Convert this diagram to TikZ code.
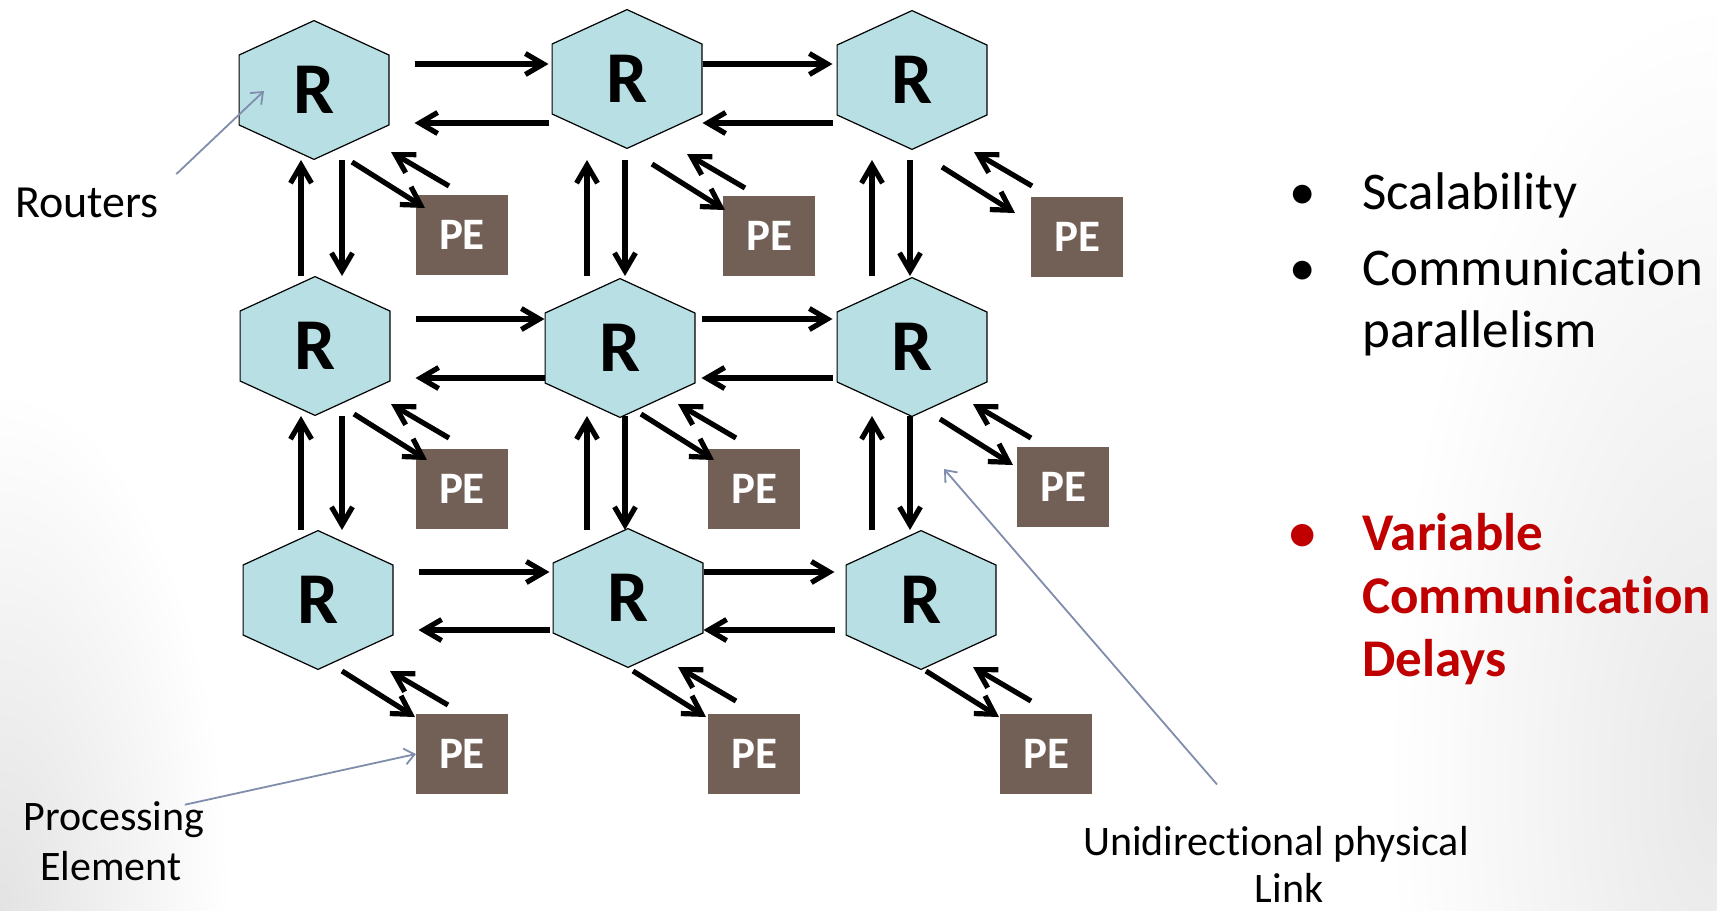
\documentclass[tikz,border=0pt]{standalone}
\usepackage{fontspec}
\setmainfont{Carlito}[Ligatures=NoCommon]
\usetikzlibrary{calc, positioning, arrows.meta}

\definecolor{hexfill}{RGB}{184,223,227}
\definecolor{pebrown}{RGB}{114,96,86}
\definecolor{notegray}{RGB}{128,141,172}
\definecolor{hotred}{RGB}{192,0,0}

\tikzset{
  router/.style={minimum width=75.5pt, minimum height=70pt, inner sep=0pt, outer sep=0pt,
    font=\fontsize{36.5}{36.5}\selectfont\bfseries,
    path picture={\filldraw[fill=hexfill, line width=0.6pt]
      let \p1=(path picture bounding box.north west), \p2=(path picture bounding box.south east) in
      ({(\x1+\x2)/2},\y1-0.3pt) -- (\x2-0.3pt,0.75*\y1+0.25*\y2) -- (\x2-0.3pt,0.25*\y1+0.75*\y2)
      -- ({(\x1+\x2)/2},\y2+0.3pt) -- (\x1+0.3pt,0.25*\y1+0.75*\y2) -- (\x1+0.3pt,0.75*\y1+0.25*\y2) -- cycle;}},
  pe/.style={fill=pebrown, text=white, minimum width=46pt, minimum height=40pt, inner sep=0pt,
    outer sep=0pt, font=\fontsize{22.5}{22.5}\selectfont\bfseries},
  link/.style={line width=2.6pt, -{Straight Barb[length=9pt,width=10.5pt]}},
  note/.style={draw=notegray, line width=0.9pt, -{Straight Barb[length=5pt,width=8pt]}},
  notetext/.style={inner sep=0pt, font=\fontsize{21}{21}\selectfont},
  item/.style={inner sep=0pt, font=\fontsize{26.5}{26.5}\selectfont},
  hot/.style={text=hotred, font=\fontsize{26.5}{26.5}\selectfont\bfseries}
}

\begin{document}
\begin{tikzpicture}[x=0.5pt, y=-0.5pt]
  \useasboundingbox (0,0) rectangle (1717,910);
  \fill[white] (0,0) rectangle (1717,910);
  \begin{scope}
    \clip (0,0) rectangle (1717,910);
    \shade[inner color=black!11, outer color=white] (0,910) ellipse (230 and 520);
    \shade[inner color=black!9, outer color=white] (1717,780) ellipse (330 and 780);
  \end{scope}

  % routers
  \node[router] (R11) at (314,90) {R};
  \node[router] (R12) at (627,79) {R};
  \node[router] (R13) at (912,80) {R};
  \node[router] (R21) at (315,346) {R};
  \node[router] (R22) at (620,348) {R};
  \node[router] (R23) at (912,347) {R};
  \node[router] (R31) at (318,600) {R};
  \node[router] (R32) at (628,598) {R};
  \node[router] (R33) at (921,600) {R};

  % processing elements
  \node[pe] (PE11) at (462,235) {PE};
  \node[pe] (PE12) at (769,236) {PE};
  \node[pe] (PE13) at (1077,237) {PE};
  \node[pe] (PE21) at (462,489) {PE};
  \node[pe] (PE22) at (754,489) {PE};
  \node[pe] (PE23) at (1063,487) {PE};
  \node[pe] (PE31) at (462,754) {PE};
  \node[pe] (PE32) at (754,754) {PE};
  \node[pe] (PE33) at (1046,754) {PE};

  % lanes
  \path (R11) ++(0,-26) coordinate (E1) ++(0,59) coordinate (W1);
  \path (R21) ++(0,-27) coordinate (E2) ++(0,59) coordinate (W2);
  \path (R31) ++(0,-28) coordinate (E3) ++(0,58) coordinate (W3);
  \path (R11) ++(-13,0) coordinate (U1) ++(41,0) coordinate (D1);
  \path (R12) ++(-40,0) coordinate (U2) ++(38,0) coordinate (D2);
  \path (R13) ++(-40,0) coordinate (U3) ++(38,0) coordinate (D3);

  \draw[link, shorten <=12.5pt, shorten >=1.5pt] (R11.east |- E1) -- (R12.west |- E1);
  \draw[link, shorten <=1.5pt, shorten >=12.5pt] (R12.west |- W1) -- (R11.east |- W1);
  \draw[link, shorten >=2pt] (R12.east |- E1) -- (R13.west |- E1);
  \draw[link, shorten <=2pt] (R13.west |- W1) -- (R12.east |- W1);
  \draw[link, shorten <=12.5pt, shorten >=0pt] (R21.east |- E2) -- (R22.west |- E2);
  \draw[link, shorten <=0pt, shorten >=12.5pt] (R22.west |- W2) -- (R21.east |- W2);
  \draw[link, shorten <=3pt, shorten >=2pt] (R22.east |- E2) -- (R23.west |- E2);
  \draw[link, shorten <=2pt, shorten >=3pt] (R23.west |- W2) -- (R22.east |- W2);
  \draw[link, shorten <=12.5pt, shorten >=1.5pt] (R31.east |- E3) -- (R32.west |- E3);
  \draw[link, shorten <=1.5pt, shorten >=12.5pt] (R32.west |- W3) -- (R31.east |- W3);
  \draw[link, shorten >=5.5pt] (R32.east |- E3) -- (R33.west |- E3);
  \draw[link, shorten <=5.5pt] (R33.west |- W3) -- (R32.east |- W3);

  \draw[link] (U1 |- R21.north) -- (U1 |- R11.south);
  \draw[link] (D1 |- R11.south) -- (D1 |- R21.north);
  \draw[link] (U2 |- R21.north) -- (U2 |- R11.south);
  \draw[link] (D2 |- R11.south) -- (D2 |- R21.north);
  \draw[link] (U3 |- R21.north) -- (U3 |- R11.south);
  \draw[link] (D3 |- R11.south) -- (D3 |- R21.north);
  \draw[link] (U1 |- R31.north) -- (U1 |- R21.south);
  \draw[link] (D1 |- R21.south) -- (D1 |- R31.north);
  \draw[link] (U2 |- R31.north) -- (U2 |- R21.south);
  \draw[link] (D2 |- R21.south) -- (D2 |- R31.north);
  \draw[link] (U3 |- R31.north) -- (U3 |- R21.south);
  \draw[link] (D3 |- R21.south) -- (D3 |- R31.north);

  % router <-> PE
  \draw[link] ([shift={(38,72)}]R11.center) -- ([shift={(9,13)}]PE11.north west);
  \draw[link] ([shift={(33,-9)}]PE11.north west) -- ([shift={(77,62)}]R11.center);
  \draw[link] ([shift={(25,85)}]R12.center) -- ([shift={(2,14)}]PE12.north west);
  \draw[link] ([shift={(22,-8)}]PE12.north west) -- ([shift={(60,75)}]R12.center);
  \draw[link] ([shift={(30,87)}]R13.center) -- ([shift={(-16,16)}]PE13.north west);
  \draw[link] ([shift={(1,-11)}]PE13.north west) -- ([shift={(62,72)}]R13.center);
  \draw[link] ([shift={(39,68)}]R21.center) -- ([shift={(11,11)}]PE21.north west);
  \draw[link] ([shift={(33,-11)}]PE21.north west) -- ([shift={(76,58)}]R21.center);
  \draw[link] ([shift={(21,66)}]R22.center) -- ([shift={(6,11)}]PE22.north west);
  \draw[link] ([shift={(28,-11)}]PE22.north west) -- ([shift={(58,56)}]R22.center);
  \draw[link] ([shift={(28,72)}]R23.center) -- ([shift={(-4,18)}]PE23.north west);
  \draw[link] ([shift={(14,-9)}]PE23.north west) -- ([shift={(61,57)}]R23.center);
  \draw[link] ([shift={(24,71)}]R31.center) -- ([shift={(-1,3)}]PE31.north west);
  \draw[link] ([shift={(32,-9)}]PE31.north west) -- ([shift={(72,71)}]R31.center);
  \draw[link] ([shift={(5,73)}]R32.center) -- ([shift={(-2,3)}]PE32.north west);
  \draw[link] ([shift={(28,-13)}]PE32.north west) -- ([shift={(50,69)}]R32.center);
  \draw[link] ([shift={(5,71)}]R33.center) -- ([shift={(-1,3)}]PE33.north west);
  \draw[link] ([shift={(31,-13)}]PE33.north west) -- ([shift={(52,67)}]R33.center);

  % labels
  \node[notetext, font=\fontsize{23}{23}\selectfont, anchor=base west] (routers) at (15,217) {Routers};
  \node[notetext, anchor=base] (proc) at (114,830) {Processing};
  \node[notetext, anchor=base] (elem) at (111,880) {Element};
  \node[notetext, anchor=base] (uni) at (1276,855) {Unidirectional physical};
  \node[notetext, anchor=base] (lnk) at (1289,902) {Link};

  \draw[note] ([shift={(17,-13)}]routers.north east) -- ([shift={(-50,1)}]R11.center);
  \draw[note] ([shift={(-20,4)}]proc.north east) -- (PE31.west);
  \draw[note] ([shift={(-59,-41)}]uni.north) -- ([shift={(32,122)}]R23.center);

  % bullet list
  \node[item, anchor=base] (b1) at (1303,209) {•};
  \node[item, anchor=base west] (scal) at (1362,209) {Scalability};
  \node[item, anchor=base] (b2) at (1303,285) {•};
  \node[item, anchor=base west] (comm) at (1362,285) {Communication};
  \node[item, anchor=base west] (par) at ([yshift=-31pt]comm.base west) {parallelism};
  \node[item, hot, anchor=base] (b3) at (1303,550) {•};
  \node[item, hot, anchor=base west] (var) at (1362,550) {Variable};
  \node[item, hot, anchor=base west] (comm2) at ([yshift=-31.5pt]var.base west) {Communication};
  \node[item, hot, anchor=base west] (del) at ([yshift=-31.5pt]comm2.base west) {Delays};
\end{tikzpicture}
\end{document}
